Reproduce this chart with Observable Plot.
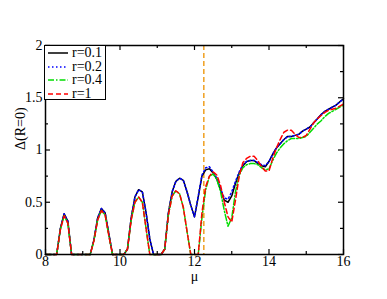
<!DOCTYPE html>
<html><head><meta charset="utf-8">
<script src="https://cdn.jsdelivr.net/npm/d3@7"></script>
<script src="https://cdn.jsdelivr.net/npm/@observablehq/plot@0.6"></script>
<style>
body{margin:0;background:#fff;}
#chart{position:relative;width:387px;height:299px;font-family:'Liberation Serif','Times New Roman',Times,serif;}
#chart svg text{font-family:'Liberation Serif','Times New Roman',Times,serif;}
#legend{position:absolute;left:44px;top:45px;width:62px;height:55px;border:1.5px solid #000;background:#fff;box-sizing:border-box;}
#legend .row{position:absolute;left:0;height:14px;font-size:14px;line-height:14px;}
#legend svg{position:absolute;left:3px;top:3px;}
#legend span{position:absolute;left:27px;top:0;white-space:nowrap;}
</style>
</head><body>
<div id="chart"></div>
<script>
const mu = [8.0,8.1,8.2,8.3,8.4,8.5,8.6,8.7,8.8,8.9,9.0,9.1,9.2,9.3,9.4,9.5,9.6,9.7,9.8,9.9,
10.0,10.1,10.2,10.3,10.4,10.5,10.6,10.7,10.8,10.9,11.0,11.1,11.2,11.3,11.4,11.5,11.6,11.7,11.8,11.9,
12.0,12.1,12.2,12.3,12.4,12.5,12.6,12.7,12.8,12.9,13.0,13.1,13.2,13.3,13.4,13.5,13.6,13.7,13.8,13.9,
14.0,14.1,14.2,14.3,14.4,14.5,14.6,14.7,14.8,14.9,15.0,15.1,15.2,15.3,15.4,15.5,15.6,15.7,15.8,15.9,16.0];

const r01 = [0,0,0,0,0.25,0.39,0.32,0,0,0,0,0,0,0.14,0.35,0.44,0.40,0.20,0,0,
0,0,0.05,0.35,0.55,0.62,0.60,0.40,0.15,0,0,0,0.05,0.40,0.60,0.70,0.73,0.71,0.60,0.47,
0.36,0.55,0.75,0.81,0.82,0.78,0.72,0.62,0.52,0.50,0.56,0.68,0.78,0.85,0.89,0.90,0.90,0.87,0.85,0.84,
0.89,0.96,1.02,1.06,1.10,1.13,1.13,1.14,1.15,1.18,1.20,1.22,1.26,1.30,1.34,1.37,1.39,1.41,1.43,1.46,1.49];

const r02 = [0,0,0,0,0.25,0.39,0.32,0,0,0,0,0,0,0.14,0.35,0.44,0.40,0.20,0,0,
0,0,0.05,0.35,0.55,0.62,0.60,0.40,0.15,0,0,0,0.05,0.40,0.60,0.70,0.73,0.71,0.60,0.47,
0.36,0.56,0.76,0.83,0.84,0.79,0.73,0.63,0.54,0.53,0.60,0.70,0.79,0.86,0.89,0.90,0.90,0.88,0.86,0.85,
0.89,0.96,1.02,1.06,1.10,1.13,1.13,1.14,1.15,1.18,1.20,1.22,1.26,1.30,1.34,1.37,1.39,1.41,1.43,1.46,1.49];

const r04 = [0,0,0,0,0.24,0.37,0.30,0,0,0,0,0,0,0.13,0.33,0.42,0.38,0.18,0,0,
0,0,0.05,0.33,0.50,0.55,0.50,0.25,0,0,0,0,0.05,0.38,0.56,0.61,0.58,0.45,0.22,0,
0,0,0.35,0.62,0.75,0.77,0.72,0.60,0.42,0.27,0.35,0.60,0.76,0.83,0.86,0.87,0.87,0.86,0.83,0.81,
0.82,0.90,0.97,1.02,1.06,1.09,1.11,1.11,1.11,1.12,1.13,1.17,1.21,1.25,1.28,1.32,1.35,1.37,1.39,1.41,1.43];

const r1 = [0,0,0,0,0.24,0.37,0.30,0,0,0,0,0,0,0.13,0.33,0.42,0.38,0.18,0,0,
0,0,0.05,0.33,0.50,0.55,0.50,0.25,0,0,0,0,0.05,0.38,0.56,0.61,0.58,0.45,0.22,0,
0,0,0.40,0.65,0.75,0.79,0.76,0.66,0.50,0.36,0.31,0.52,0.75,0.88,0.92,0.94,0.94,0.90,0.84,0.80,
0.80,0.92,1.02,1.10,1.17,1.19,1.19,1.15,1.12,1.12,1.14,1.20,1.26,1.30,1.33,1.36,1.38,1.39,1.40,1.42,1.44];

const seriesNames = ["r=0.1","r=0.2","r=0.4","r=1"];
const seriesValues = [r01, r02, r04, r1];
const seriesColors = ["#000000","#0000ff","#00dd00","#ff0000"];
const seriesDash = [null,"1.5,2.5","6,2,1.5,2","5,3"];
const markerMu = [12.25];
const xTicks = [8,10,12,14,16];
const xMinor = [9,11,13,15];
const yTicks = [0,0.5,1,1.5,2];
const yTickLabels = ["0","0.5","1","1.5","2"];
const yMinor = [0.25,0.75,1.25,1.75];

const FONT = "'Liberation Serif','Times New Roman',Times,serif";
const W = 387, H = 299, mL = 45, mR = 44, mT = 45, mB = 45;
const plotH = H - mT - mB, plotW = W - mL - mR;

const lineMarks = seriesValues.map((vals, k) =>
  Plot.line(mu.map((m, i) => ({mu: m, v: vals[i]})), {
    x: "mu", y: "v", stroke: seriesColors[k], strokeWidth: 1.5,
    strokeDasharray: seriesDash[k] || undefined
  })
);

const tickLen = 5, minorLen = 3;
const chart = Plot.plot({
  width: W, height: H,
  marginLeft: mL, marginRight: mR, marginTop: mT, marginBottom: mB,
  style: {fontFamily: FONT, fontSize: "14px", color: "#000", background: "#fff"},
  x: {domain: [8, 16]},
  y: {domain: [0, 2]},
  marks: [
    Plot.ruleX(markerMu, {stroke: "#f0a020", strokeWidth: 1.5, strokeDasharray: "5,3"}),
    ...lineMarks,
    Plot.frame({stroke: "#000", strokeWidth: 1.5}),
    Plot.tickX(xTicks, {x: d => d, insetTop: plotH - tickLen, stroke: "#000", strokeWidth: 1.2}),
    Plot.tickX(xTicks, {x: d => d, insetBottom: plotH - tickLen, stroke: "#000", strokeWidth: 1.2}),
    Plot.tickX(xMinor, {x: d => d, insetTop: plotH - minorLen, stroke: "#000", strokeWidth: 1.2}),
    Plot.tickX(xMinor, {x: d => d, insetBottom: plotH - minorLen, stroke: "#000", strokeWidth: 1.2}),
    Plot.tickY(yTicks, {y: d => d, insetRight: plotW - tickLen, stroke: "#000", strokeWidth: 1.2}),
    Plot.tickY(yTicks, {y: d => d, insetLeft: plotW - tickLen, stroke: "#000", strokeWidth: 1.2}),
    Plot.tickY(yMinor, {y: d => d, insetRight: plotW - minorLen, stroke: "#000", strokeWidth: 1.2}),
    Plot.tickY(yMinor, {y: d => d, insetLeft: plotW - minorLen, stroke: "#000", strokeWidth: 1.2}),
    Plot.axisX(xTicks, {tickSize: 0, tickPadding: 2, fontSize: 14, fontFamily: FONT, label: null}),
    Plot.axisY(yTicks, {tickSize: 0, tickPadding: 3, fontSize: 14, fontFamily: FONT, label: null,
      tickFormat: (d) => yTickLabels[yTicks.indexOf(d)]}),
    Plot.text(["μ"], {frameAnchor: "bottom", dy: 26, fontSize: 14, fontFamily: FONT, text: d => d}),
    Plot.text(["Δ(R=0)"], {frameAnchor: "left", dx: -25, rotate: -90, fontSize: 14, fontFamily: FONT, text: d => d})
  ]
});

const container = document.getElementById("chart");
container.appendChild(chart);

const legend = document.createElement("div");
legend.id = "legend";
seriesNames.forEach((name, k) => {
  const row = document.createElement("div");
  row.className = "row";
  row.style.top = (0 + k * 13.5) + "px";
  const ns = "http://www.w3.org/2000/svg";
  const s = document.createElementNS(ns, "svg");
  s.setAttribute("width", "22"); s.setAttribute("height", "8");
  const l = document.createElementNS(ns, "line");
  l.setAttribute("x1", "0"); l.setAttribute("x2", "20");
  l.setAttribute("y1", "4"); l.setAttribute("y2", "4");
  l.setAttribute("stroke", seriesColors[k]); l.setAttribute("stroke-width", "1.5");
  if (seriesDash[k]) l.setAttribute("stroke-dasharray", seriesDash[k]);
  s.appendChild(l);
  row.appendChild(s);
  const t = document.createElement("span");
  t.textContent = name;
  row.appendChild(t);
  legend.appendChild(row);
});
container.appendChild(legend);
</script>
</body></html>
